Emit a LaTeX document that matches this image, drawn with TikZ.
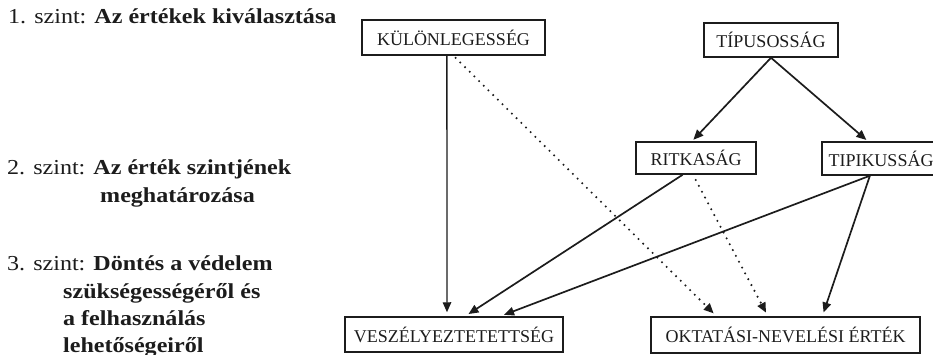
\documentclass[tikz,border=0pt]{standalone}
\usepackage{fontspec}
\setmainfont{Liberation Serif}
\newfontfamily\levelfont[FakeStretch=1.13]{Liberation Serif}
\usetikzlibrary{arrows.meta,calc}
\definecolor{ink}{HTML}{1C1C1C}

\begin{document}
\begin{tikzpicture}[x=1pt,y=-1pt,
  box/.style={draw=ink, line width=1.5pt, inner sep=0pt, text=ink,
    font=\fontsize{18}{20}\selectfont},
  level/.style={anchor=base west, inner sep=0pt, text=ink,
    font=\levelfont\fontsize{21.3}{24}\selectfont},
  link/.style={draw=ink, line width=1.7pt,
    -{Triangle[length=10pt,width=8.5pt]}, shorten >=4pt},
  dots/.style={link, line width=2.3pt, dash pattern=on 0pt off 6.6pt, line cap=round}]

\useasboundingbox (0,0) rectangle (933,355);
\clip (0,0) rectangle (933,355);

% level descriptions on the left
\node[level] (l1)  at (8,24)   {1. szint: \textbf{Az értékek kiválasztása}};
\node[level] (l2a) at (7,175)  {2. szint: \textbf{Az érték szintjének}};
\node[level] (l2b) at (100,203) {\textbf{meghatározása}};
\node[level] (l3a) at (7,270)  {3. szint: \textbf{Döntés a védelem}};
\node[level] (l3b) at (63,298) {\textbf{szükségességéről és}};
\node[level] (l3c) at (63,325) {\textbf{a felhasználás}};
\node[level] (l3d) at (63,352) {\textbf{lehetőségeiről}};

% criteria boxes
\node[box, minimum width=183pt, minimum height=35pt] (kul) at (453.5,37.5) {KÜLÖNLEGESSÉG};
\node[box, minimum width=134pt, minimum height=34pt] (tip) at (771,40) {TÍPUSOSSÁG};
\node[box, minimum width=120pt, minimum height=32pt] (rit) at (696,158) {RITKASÁG};
\node[box, minimum width=118pt, minimum height=33pt] (tpk) at (881,158.5) {TIPIKUSSÁG};
\node[box, minimum width=218pt, minimum height=35pt] (vesz) at (454,334.5) {VESZÉLYEZTETETTSÉG};
\node[box, minimum width=269pt, minimum height=36pt] (okt) at (785.5,335) {OKTATÁSI-NEVELÉSI ÉRTÉK};

% solid links
\draw[link, line width=1.3pt] ($(kul.south west)!0.464!(kul.south east)$) -- ($(vesz.north west)!0.468!(vesz.north east)$);
\draw[link, shorten >=2pt] (tip.south) -- ($(rit.north west)!0.467!(rit.north east)$);
\draw[link, shorten >=2pt] (tip.south) -- ($(tpk.north west)!0.39!(tpk.north east)$);
\draw[link] ($(rit.south west)!0.39!(rit.south east)$) -- ($(vesz.north west)!0.5505!(vesz.north east)$);
\draw[link] ($(tpk.south west)!0.407!(tpk.south east)$) -- ($(vesz.north west)!0.711!(vesz.north east)$);
\draw[link] ($(tpk.south west)!0.407!(tpk.south east)$) -- ($(okt.north west)!0.636!(okt.north east)$);

% dotted links
\draw[dots, shorten <=3pt] (kul.south) -- ($(okt.north west)!0.245!(okt.north east)$);
\draw[dots, shorten <=6pt] ($(rit.south west)!0.475!(rit.south east)$) -- ($(okt.north west)!0.435!(okt.north east)$);
\end{tikzpicture}
\end{document}
